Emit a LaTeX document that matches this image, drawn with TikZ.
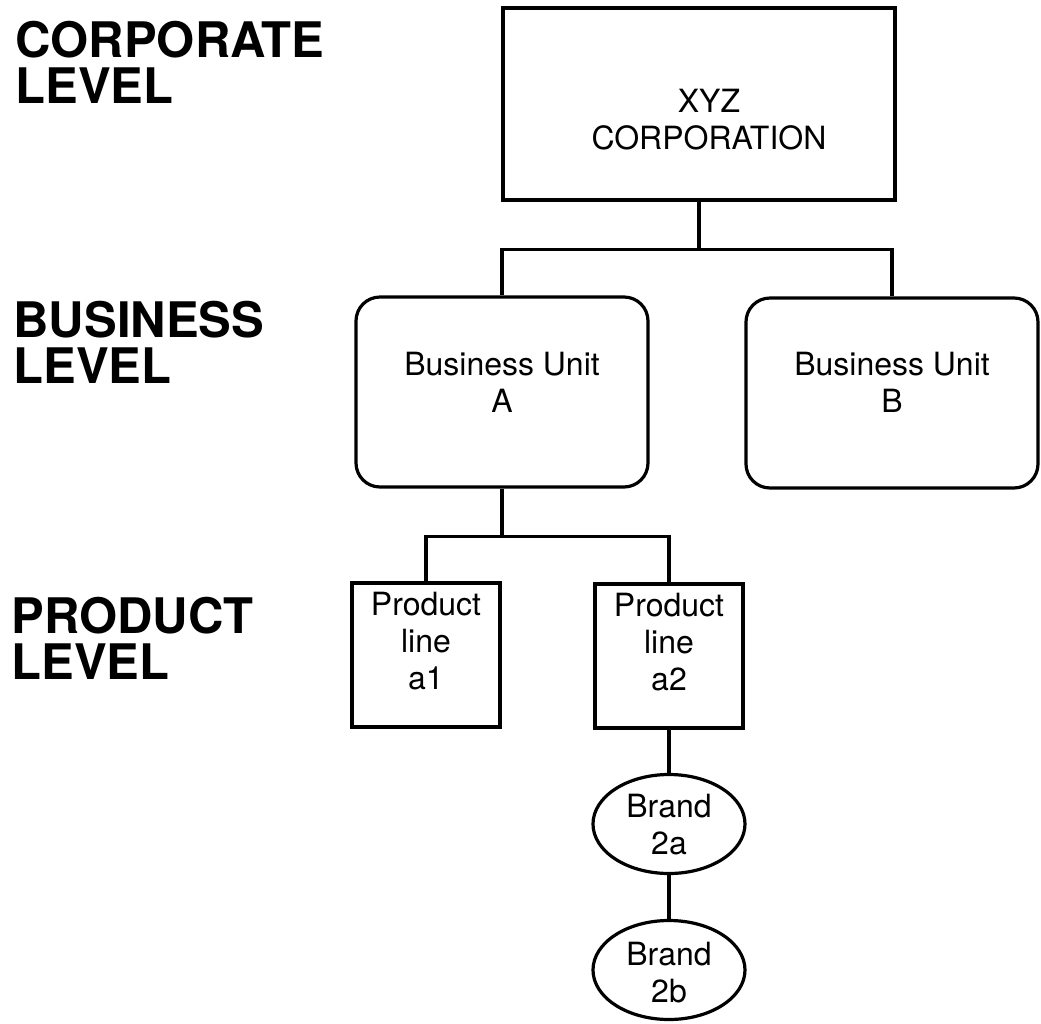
\documentclass[tikz,border=0pt]{standalone}
\usepackage{fontspec}
\setmainfont{TeX Gyre Heros}
\usepackage{tikz}
\usetikzlibrary{shapes.geometric}

\newcommand{\boxlines}[2]{\raisebox{#1}[0pt][0pt]{\begin{tabular}[t]{@{}c@{}}#2\end{tabular}}}
\newcommand{\levellines}[2]{\vtop{\hbox{#1}\hbox{#2}}}

\begin{document}
\begin{tikzpicture}[x=0.5pt,y=-0.5pt,line width=1.6pt,
    every node/.style={inner sep=0pt,font=\fontsize{16}{18.5}\selectfont},
    levellabel/.style={anchor=base west,font=\fontsize{24.5}{23}\selectfont\bfseries},
    corpbox/.style={draw,rectangle,minimum width=196pt,minimum height=96pt},
    unitbox/.style={draw,rectangle,rounded corners=12pt,minimum width=146pt,minimum height=95pt},
    linebox/.style={draw,rectangle,minimum width=74pt,minimum height=72pt},
    brandoval/.style={draw,ellipse,minimum width=76pt,minimum height=49.5pt}]
            \useasboundingbox (0,0) rectangle (1041,1024);
            \node [levellabel] (corplevel) at (14,57) {\levellines{CORPORATE}{LEVEL}};
            \node [levellabel] (unitlevel) at (12,337) {\levellines{BUSINESS}{LEVEL}};
            \node [levellabel] (prodlevel) at (10,633) {\levellines{PRODUCT}{LEVEL}};
            \node [corpbox] (corp) at (699,104) {\hspace*{10pt}\boxlines{-4pt}{XYZ\\CORPORATION}};
            \node [unitbox] (unitA) at (502,392) {\boxlines{8.5pt}{Business Unit\\A}};
            \node [unitbox] (unitB) at (892,393) {\boxlines{9pt}{Business Unit\\B}};
            \node [linebox] (linea1) at (426,655) {\boxlines{20pt}{Product\\line\\a1}};
            \node [linebox] (linea2) at (669,656) {\boxlines{20pt}{Product\\line\\a2}};
            \node [brandoval] (brand2a) at (669,824) {\boxlines{3.5pt}{Brand\\2a}};
            \node [brandoval] (brand2b) at (669,970) {\boxlines{2.5pt}{Brand\\2b}};
            \draw [black] (corp.south) -- ++(0,48) coordinate (corpbar);
            \draw [black] (unitA.north) |- (corpbar) -| (unitB.north);
            \draw [black] (unitA.south) -- ++(0,48) coordinate (unitbar);
            \draw [black] (linea1.north) |- (unitbar) -| (linea2.north);
            \draw [black] (linea2) -- (brand2a) -- (brand2b);
\end{tikzpicture}
\end{document}
